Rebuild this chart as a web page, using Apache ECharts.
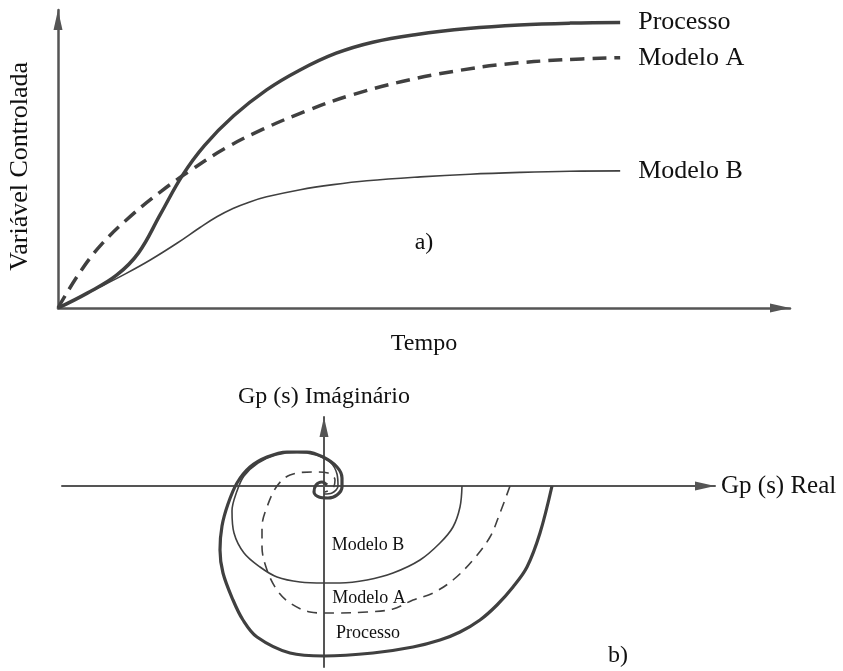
<!DOCTYPE html>
<html>
<head>
<meta charset="utf-8">
<script src="https://cdn.jsdelivr.net/npm/echarts@6/dist/echarts.min.js"></script>
<style>
  html, body { margin: 0; padding: 0; background: #fff; }
  #chart { width: 843px; height: 671px; }
</style>
</head>
<body>
<div id="chart"></div>
<script>
// a) Resposta ao degrau: tempo x variável controlada
const processoT = [0, 0.4, 0.8, 1.1, 1.4, 1.7, 2.0, 2.4, 2.85, 3.3, 3.8, 4.3, 4.9, 5.6, 6.3, 7.0, 7.68];
const processoV = [0, 0.050, 0.110, 0.185, 0.315, 0.445, 0.545, 0.645, 0.732, 0.798, 0.855, 0.892, 0.918, 0.938, 0.950, 0.956, 0.958];

const modeloAT = [0, 0.3, 0.6, 1.0, 1.4, 1.8, 2.3, 2.8, 3.4, 4.0, 4.7, 5.4, 6.1, 6.9, 7.68];
const modeloAV = [0, 0.120, 0.215, 0.310, 0.390, 0.460, 0.538, 0.600, 0.662, 0.714, 0.760, 0.794, 0.818, 0.833, 0.840];

const modeloBT = [0, 0.57, 0.94, 1.26, 1.63, 1.94, 2.17, 2.39, 2.62, 2.85, 3.31, 3.76, 4.22, 4.95, 5.63, 6.31, 6.99, 7.68];
const modeloBV = [0, 0.070, 0.117, 0.161, 0.218, 0.270, 0.306, 0.334, 0.356, 0.373, 0.397, 0.414, 0.427, 0.440, 0.449, 0.455, 0.459, 0.460];

// b) Diagrama de Nyquist: Gp(s) real x imaginário
const processoRe = [2.28, 2.16, 2.03, 1.89, 1.73, 1.56, 1.36, 1.16, 0.89, 0.49, 0.00, -0.34, -0.67, -0.81, -0.91, -1.01, -1.04, -1.02, -0.96, -0.87, -0.74, -0.57, -0.37, -0.17, -0.01, 0.13, 0.18, 0.18, 0.13, 0.04, -0.05, -0.10, -0.08, -0.02, 0.03];
const processoIm = [0.00, -0.47, -0.81, -1.01, -1.19, -1.34, -1.46, -1.54, -1.61, -1.67, -1.70, -1.67, -1.51, -1.34, -1.14, -0.87, -0.64, -0.40, -0.18, 0.03, 0.19, 0.29, 0.34, 0.34, 0.29, 0.19, 0.08, -0.01, -0.09, -0.12, -0.11, -0.06, 0.01, 0.04, 0.01];

const modeloARe = [1.86, 1.76, 1.66, 1.49, 1.29, 1.09, 0.89, 0.69, 0.43, 0.13, 0.00, -0.14, -0.34, -0.47, -0.57, -0.62, -0.62, -0.57, -0.47, -0.34, -0.11, 0.04, 0.11, 0.09, 0.01];
const modeloAIm = [0.00, -0.27, -0.51, -0.74, -0.94, -1.07, -1.14, -1.23, -1.26, -1.27, -1.27, -1.26, -1.17, -1.04, -0.84, -0.61, -0.41, -0.21, 0.00, 0.11, 0.14, 0.13, 0.06, -0.02, -0.06];

const modeloBRe = [1.38, 1.36, 1.29, 1.16, 0.96, 0.69, 0.43, 0.16, 0.00, -0.24, -0.47, -0.64, -0.80, -0.90, -0.92, -0.87, -0.80, -0.66, -0.48, -0.27, -0.08, 0.06, 0.13, 0.14, 0.08, 0.00];
const modeloBIm = [0.00, -0.21, -0.41, -0.57, -0.74, -0.87, -0.94, -0.97, -0.97, -0.96, -0.91, -0.81, -0.67, -0.47, -0.25, -0.05, 0.10, 0.23, 0.31, 0.335, 0.31, 0.24, 0.12, 0.00, -0.07, -0.08];

const serif = "'Liberation Serif', 'Times New Roman', serif";
const ink = '#111';
const lineGray = '#404040';
const axisGray = '#555';

function pairs(xs, ys) {
  return xs.map(function (x, i) { return [x, ys[i]]; });
}

const chart = echarts.init(document.getElementById('chart'), null, { renderer: 'canvas' });

function hiddenAxisParts() {
  return {
    axisTick: { show: false },
    axisLabel: { show: false },
    splitLine: { show: false }
  };
}

function arrowLine(width, onZero) {
  return {
    onZero: onZero,
    symbol: ['none', 'triangle'],
    symbolSize: [9, 20],
    symbolOffset: [0, -10],
    lineStyle: { color: axisGray, width: width }
  };
}

const option = {
  backgroundColor: '#fff',
  animation: false,
  grid: [
    { left: 58, right: 53, top: 10, bottom: 363 },
    { left: 62, right: 128, top: 417, bottom: 4 }
  ],
  xAxis: [
    Object.assign({
      type: 'value', gridIndex: 0, min: 0, max: 10,
      name: 'Tempo', nameLocation: 'middle', nameGap: 24,
      nameTextStyle: { fontFamily: serif, fontSize: 24, color: ink },
      axisLine: arrowLine(2.5, false)
    }, hiddenAxisParts()),
    Object.assign({
      type: 'value', gridIndex: 1, min: -2.62, max: 3.91,
      name: 'Gp (s) Real', nameLocation: 'end', nameGap: 6,
      nameTextStyle: { fontFamily: serif, fontSize: 25, color: ink },
      axisLine: arrowLine(2, true)
    }, hiddenAxisParts())
  ],
  yAxis: [
    Object.assign({
      type: 'value', gridIndex: 0, min: 0, max: 1,
      axisLine: arrowLine(2.5, false)
    }, hiddenAxisParts()),
    Object.assign({
      type: 'value', gridIndex: 1, min: -1.81, max: 0.69,
      name: 'Gp (s) Imáginário', nameLocation: 'end', nameGap: 8,
      nameTextStyle: { fontFamily: serif, fontSize: 24, color: ink },
      axisLine: arrowLine(2, true)
    }, hiddenAxisParts())
  ],
  series: [
    {
      name: 'Processo', type: 'line', xAxisIndex: 0, yAxisIndex: 0,
      data: pairs(processoT, processoV), smooth: 0.4, showSymbol: false,
      lineStyle: { color: lineGray, width: 3.5 },
      endLabel: { show: true, formatter: '{a}', distance: 18, fontFamily: serif, fontSize: 26, color: ink }
    },
    {
      name: 'Modelo A', type: 'line', xAxisIndex: 0, yAxisIndex: 0,
      data: pairs(modeloAT, modeloAV), smooth: 0.4, showSymbol: false,
      lineStyle: { color: lineGray, width: 3.5, type: [14, 8] },
      endLabel: { show: true, formatter: '{a}', distance: 18, fontFamily: serif, fontSize: 26, color: ink }
    },
    {
      name: 'Modelo B', type: 'line', xAxisIndex: 0, yAxisIndex: 0,
      data: pairs(modeloBT, modeloBV), smooth: 0.4, showSymbol: false,
      lineStyle: { color: lineGray, width: 1.6 },
      endLabel: { show: true, formatter: '{a}', distance: 18, fontFamily: serif, fontSize: 26, color: ink }
    },
    {
      name: 'Processo (Nyquist)', type: 'line', xAxisIndex: 1, yAxisIndex: 1,
      data: pairs(processoRe, processoIm), smooth: 0.35, showSymbol: false,
      lineStyle: { color: lineGray, width: 3.2 }
    },
    {
      name: 'Modelo A (Nyquist)', type: 'line', xAxisIndex: 1, yAxisIndex: 1,
      data: pairs(modeloARe, modeloAIm), smooth: 0.35, showSymbol: false,
      lineStyle: { color: lineGray, width: 1.6, type: [10, 7] }
    },
    {
      name: 'Modelo B (Nyquist)', type: 'line', xAxisIndex: 1, yAxisIndex: 1,
      data: pairs(modeloBRe, modeloBIm), smooth: 0.35, showSymbol: false,
      lineStyle: { color: lineGray, width: 1.6 }
    }
  ],
  graphic: [
    { type: 'text', left: 7, top: 62, rotation: Math.PI / 2, originX: 0, originY: 0,
      style: { text: 'Variável Controlada', font: '26px ' + serif, fill: ink, x: 0, y: 0 } },
    { type: 'text', x: 424, y: 243, style: { text: 'a)', font: '24px ' + serif, fill: ink, align: 'center', verticalAlign: 'middle' } },
    { type: 'text', x: 618, y: 656, style: { text: 'b)', font: '24px ' + serif, fill: ink, align: 'center', verticalAlign: 'middle' } },
    { type: 'text', x: 368, y: 545, style: { text: 'Modelo B', font: '18px ' + serif, fill: ink, align: 'center', verticalAlign: 'middle' } },
    { type: 'text', x: 369, y: 598, style: { text: 'Modelo A', font: '18px ' + serif, fill: ink, align: 'center', verticalAlign: 'middle' } },
    { type: 'text', x: 368, y: 633, style: { text: 'Processo', font: '18px ' + serif, fill: ink, align: 'center', verticalAlign: 'middle' } }
  ]
};

chart.setOption(option);
</script>
</body>
</html>
